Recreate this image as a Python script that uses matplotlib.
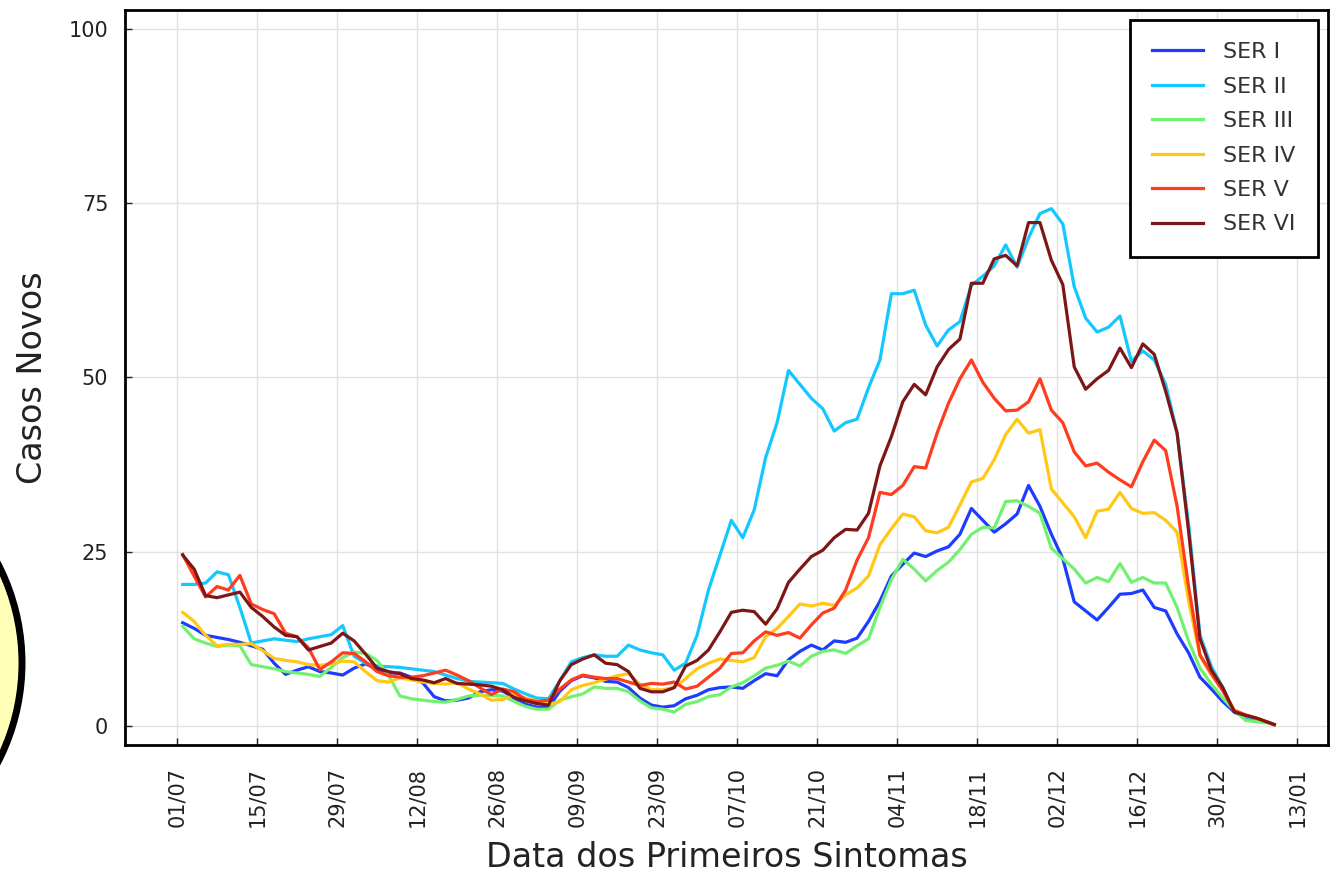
import numpy as np
import matplotlib
matplotlib.use("Agg")
import matplotlib.pyplot as plt
import matplotlib.dates as mdates
from matplotlib.patches import Ellipse

# Days since 01/07/2020 at which values were read (every 2 days)
start = np.datetime64('2020-07-01')
day_offsets = list(range(1, 192, 2)) + [192]

ser_1 = [14.8, 14.0, 13.0, 12.7, 12.4, 12.0, 11.5, 11.0, 9.0, 7.4,
         8.0, 8.5, 7.8, 7.6, 7.3, 8.3, 8.9, 8.2, 7.6, 7.6,
         7.0, 6.2, 4.2, 3.6, 3.7, 4.0, 4.9, 5.2, 5.0, 4.0,
         3.1, 2.7, 2.6, 5.0, 6.5, 7.2, 6.9, 6.4, 6.3, 5.5,
         4.0, 3.0, 2.7, 2.9, 3.9, 4.4, 5.2, 5.5, 5.6, 5.4,
         6.5, 7.5, 7.2, 9.5, 10.7, 11.6, 10.9, 12.2, 12.0, 12.6,
         15.0, 17.9, 21.5, 23.2, 24.8, 24.3, 25.1, 25.7, 27.5, 31.2,
         29.5, 27.8, 29.0, 30.4, 34.5, 31.5, 27.5, 24.0, 17.8, 16.5,
         15.2, 17.0, 18.9, 19.0, 19.5, 17.0, 16.5, 13.2, 10.5, 7.0,
         5.3, 3.5, 2.0, 1.2, 0.9, 0.5, 0.2]

ser_2 = [20.3, 20.3, 20.5, 22.1, 21.7, 17.0, 11.9, 12.2, 12.5, 12.3,
         12.1, 12.5, 12.8, 13.1, 14.4, 10.0, 9.0, 8.6, 8.5, 8.4,
         8.2, 8.0, 7.8, 7.3, 6.8, 6.4, 6.3, 6.2, 6.1, 5.3,
         4.6, 4.0, 3.9, 6.5, 9.2, 9.8, 10.2, 10.0, 10.0, 11.6,
         10.9, 10.5, 10.2, 8.0, 9.0, 13.0, 19.5, 24.5, 29.5, 27.0,
         31.0, 38.5, 43.5, 51.0, 49.0, 47.0, 45.5, 42.3, 43.5, 44.0,
         48.5, 52.5, 62.0, 62.0, 62.5, 57.5, 54.5, 56.8, 58.0, 63.2,
         64.5, 66.0, 69.0, 65.8, 70.0, 73.5, 74.2, 72.0, 63.0, 58.5,
         56.5, 57.2, 58.8, 52.3, 53.8, 52.5, 49.0, 42.0, 29.0, 13.0,
         8.5, 5.5, 2.0, 1.3, 1.0, 0.5, 0.2]

ser_3 = [14.3, 12.5, 11.9, 11.4, 11.6, 11.5, 8.8, 8.5, 8.2, 7.8,
         7.6, 7.4, 7.1, 8.4, 9.8, 10.6, 10.4, 9.4, 7.3, 4.3,
         3.9, 3.7, 3.5, 3.4, 3.8, 4.3, 4.4, 4.4, 4.3, 3.5,
         2.8, 2.4, 2.4, 3.7, 4.2, 4.6, 5.6, 5.4, 5.4, 4.9,
         3.6, 2.6, 2.4, 2.0, 3.1, 3.5, 4.2, 4.5, 5.6, 6.2,
         7.2, 8.3, 8.7, 9.3, 8.6, 10.0, 10.7, 10.9, 10.4, 11.5,
         12.5, 17.0, 21.0, 23.9, 22.5, 20.8, 22.3, 23.5, 25.3, 27.5,
         28.5, 28.4, 32.2, 32.3, 31.5, 30.5, 25.5, 24.0, 22.5, 20.5,
         21.3, 20.7, 23.3, 20.6, 21.3, 20.5, 20.5, 17.0, 12.2, 8.3,
         6.0, 4.0, 2.2, 0.8, 0.6, 0.4, 0.2]

ser_4 = [16.3, 15.0, 13.0, 11.5, 11.7, 11.7, 11.8, 10.8, 9.7, 9.4,
         9.2, 8.8, 8.7, 8.9, 9.3, 9.2, 7.8, 6.5, 6.3, 6.9,
         6.6, 6.3, 6.1, 6.0, 6.2, 5.3, 4.6, 3.7, 3.8, 4.5,
         4.0, 3.6, 3.1, 3.5, 5.2, 5.8, 6.2, 6.7, 7.2, 7.5,
         6.0, 5.2, 5.2, 5.5, 6.8, 8.2, 9.0, 9.6, 9.4, 9.2,
         9.8, 12.8, 14.0, 15.7, 17.5, 17.2, 17.6, 17.3, 18.8, 19.8,
         21.5, 26.0, 28.3, 30.4, 30.0, 28.0, 27.7, 28.5, 31.7, 35.0,
         35.5, 38.2, 41.8, 44.0, 42.0, 42.5, 34.0, 32.0, 30.0, 27.0,
         30.8, 31.1, 33.5, 31.2, 30.5, 30.6, 29.5, 27.8, 18.0, 10.0,
         7.3, 5.2, 2.3, 1.5, 1.1, 0.5, 0.2]

ser_5 = [24.6, 21.5, 18.5, 20.0, 19.5, 21.6, 17.5, 16.7, 16.1, 13.3,
         12.8, 11.2, 8.1, 9.2, 10.5, 10.4, 9.2, 7.8, 7.2, 7.0,
         7.0, 7.2, 7.6, 8.0, 7.3, 6.5, 5.5, 4.5, 5.3, 4.9,
         3.8, 3.5, 3.7, 5.3, 6.6, 7.3, 7.0, 6.8, 6.8, 6.3,
         5.8, 6.1, 6.0, 6.3, 5.3, 5.7, 7.0, 8.3, 10.4, 10.5,
         12.2, 13.5, 13.0, 13.4, 12.6, 14.5, 16.2, 16.9, 19.5, 23.8,
         27.0, 33.5, 33.2, 34.5, 37.2, 37.0, 42.0, 46.3, 49.8, 52.5,
         49.3, 47.0, 45.2, 45.3, 46.5, 49.8, 45.3, 43.5, 39.3, 37.3,
         37.7, 36.4, 35.3, 34.3, 37.9, 41.0, 39.5, 31.5, 20.0, 10.2,
         7.5, 5.0, 2.2, 1.6, 1.1, 0.5, 0.2]

ser_6 = [24.5, 22.5, 18.7, 18.4, 18.8, 19.2, 17.0, 15.7, 14.2, 13.0,
         12.8, 10.9, 11.4, 11.9, 13.3, 12.2, 10.3, 8.3, 7.8, 7.5,
         6.8, 6.6, 6.2, 6.8, 6.1, 6.0, 5.9, 5.7, 5.2, 4.1,
         3.6, 3.2, 3.0, 6.5, 8.8, 9.6, 10.2, 9.0, 8.8, 7.8,
         5.4, 4.9, 4.9, 5.5, 8.6, 9.4, 10.9, 13.5, 16.3, 16.6,
         16.4, 14.6, 16.8, 20.6, 22.5, 24.3, 25.2, 27.0, 28.2, 28.1,
         30.5, 37.3, 41.5, 46.5, 49.0, 47.5, 51.5, 54.0, 55.5, 63.5,
         63.5, 67.0, 67.5, 66.0, 72.2, 72.2, 66.8, 63.3, 51.5, 48.3,
         49.8, 51.0, 54.2, 51.4, 54.8, 53.3, 48.0, 42.0, 28.0, 12.5,
         8.0, 5.5, 2.0, 1.5, 1.1, 0.5, 0.2]

labels = ['SER I', 'SER II', 'SER III', 'SER IV', 'SER V', 'SER VI']
colors = ['#1E3CFF', '#14C8FF', '#70F270', '#FFC814', '#FF3C1E', '#7D1616']
series = [ser_1, ser_2, ser_3, ser_4, ser_5, ser_6]

dates = start + np.array(day_offsets)

fig = plt.figure(figsize=(13.41, 8.74), dpi=100)
ax = fig.add_axes([0.0932, 0.1476, 0.8971, 0.841])

for vals, lab, col in zip(series, labels, colors):
    ax.plot(dates, vals, color=col, lw=2.3, label=lab)

# x axis: ticks every two weeks
x0 = mdates.date2num(start)
ax.set_xlim(x0 - 9.1, x0 + 201.4)
ax.set_xticks(start + np.arange(0, 197, 14))
ax.xaxis.set_major_formatter(mdates.DateFormatter('%d/%m'))
ax.set_ylim(-2.73, 102.7)
ax.set_yticks([0, 25, 50, 75, 100])

ax.grid(True, color='#e2e2e2', lw=1)
ax.set_axisbelow(True)
for sp in ax.spines.values():
    sp.set_linewidth(2)
ax.tick_params(axis='x', direction='in', length=5, width=1, pad=16,
               labelsize=15, labelrotation=90, colors='#222222')
ax.tick_params(axis='y', direction='in', length=5, width=1, pad=12,
               labelsize=15, colors='#222222')

ax.set_xlabel('Data dos Primeiros Sintomas', fontsize=24, color='#222222', labelpad=10)
ax.set_ylabel('Casos Novos', fontsize=24, color='#222222', labelpad=14)

leg = ax.legend(loc='upper right', fontsize=16, frameon=True, fancybox=False,
                edgecolor='black', framealpha=1, borderaxespad=0.45,
                handlelength=2.3, handletextpad=0.9, labelspacing=0.65,
                borderpad=1.0)
leg.get_frame().set_linewidth(2)
for t in leg.get_texts():
    t.set_color('#333333')

# partially visible yellow circle at the left edge
circ = Ellipse((-194 / 1341, 211 / 874), 2 * 216 / 1341, 2 * 216 / 874,
               transform=fig.transFigure, facecolor='#FFFFB8',
               edgecolor='black', lw=5, clip_on=False)
fig.add_artist(circ)

fig.savefig('out.png', dpi=100)
